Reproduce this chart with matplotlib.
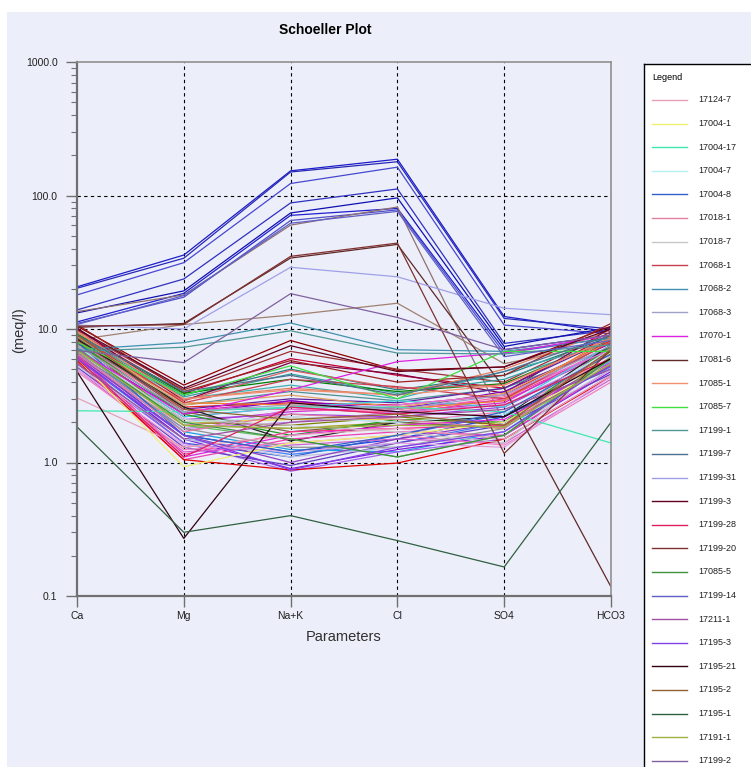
import numpy as np
import matplotlib.pyplot as plt
from matplotlib.patches import Rectangle
from matplotlib.ticker import LogLocator, NullFormatter

plt.rcParams['font.family'] = ['Liberation Sans', 'DejaVu Sans']

##### Data #####
params = ['Ca', 'Mg', 'Na+K', 'Cl', 'SO4', 'HCO3']
ytick_vals = [0.1, 1.0, 10.0, 100.0, 1000.0]
ytick_labels = ['0.1', '1.0', '10.0', '100.0', '1000.0']

# samples visible in the legend, values in meq/l: Ca, Mg, Na+K, Cl, SO4, HCO3
legend_names = ['17124-7', '17004-1', '17004-17', '17004-7', '17004-8', '17018-1',
                '17018-7', '17068-1', '17068-2', '17068-3', '17070-1', '17081-6',
                '17085-1', '17085-7', '17199-1', '17199-7', '17199-31', '17199-3',
                '17199-28', '17199-20', '17085-5', '17199-14', '17211-1', '17195-3',
                '17195-21', '17195-2', '17195-1', '17191-1', '17199-2']
legend_colors = ['#E8A0B8', '#F0F070', '#40E8B0', '#B8F0F0', '#3060C8', '#E080A0',
                 '#C8C8C8', '#C84050', '#4090B0', '#A0A0C8', '#E020E0', '#602828',
                 '#F09070', '#40E040', '#509898', '#507090', '#A0A0E8', '#600020',
                 '#E02060', '#803030', '#409040', '#6060C8', '#A050A0', '#8040E8',
                 '#300010', '#906030', '#306040', '#A0B040', '#8060A0']
legend_values = [
    [3.05, 1.3, 1.6, 1.8, 1.5, 4.5],
    [6.0, 0.93, 1.4, 1.6, 2.0, 5.5],
    [2.44, 2.4, 2.6, 2.6, 2.4, 1.4],
    [7.5, 2.0, 2.2, 2.0, 2.3, 7.0],
    [8.0, 1.6, 1.2, 1.6, 2.4, 6.5],
    [6.5, 1.7, 2.3, 2.1, 1.8, 7.0],
    [7.0, 2.1, 1.9, 1.7, 1.4, 6.0],
    [9.0, 2.8, 4.2, 3.7, 3.0, 8.0],
    [7.0, 7.9, 11.1, 7.0, 6.8, 8.5],
    [7.5, 2.4, 2.7, 2.5, 3.2, 7.5],
    [7.0, 2.3, 3.5, 5.7, 6.6, 9.0],
    [10.3, 11.0, 34.0, 43.0, 3.6, 0.117],
    [9.5, 3.0, 3.5, 3.2, 3.8, 8.5],
    [8.0, 3.2, 5.3, 3.0, 6.8, 6.8],
    [6.8, 7.3, 9.7, 6.6, 6.5, 7.6],
    [9.0, 3.4, 4.5, 3.2, 4.8, 9.0],
    [10.7, 10.0, 29.0, 24.6, 14.3, 12.8],
    [10.0, 3.6, 7.5, 4.8, 5.2, 10.0],
    [6.0, 1.1, 2.6, 2.3, 2.7, 6.0],
    [10.5, 10.8, 35.0, 44.0, 1.17, 7.0],
    [7.0, 2.0, 1.5, 1.1, 1.6, 6.0],
    [10.8, 17.8, 62.0, 76.0, 6.2, 8.2],
    [5.5, 1.5, 2.0, 2.2, 2.5, 5.0],
    [6.0, 1.6, 0.88, 1.3, 1.7, 5.5],
    [4.8, 0.27, 2.8, 2.4, 2.2, 6.0],
    [9.0, 2.5, 2.1, 2.3, 1.9, 7.0],
    [1.85, 0.3, 0.4, 0.26, 0.165, 2.0],
    [7.0, 1.9, 1.8, 1.9, 1.85, 5.5],
    [6.9, 5.6, 18.4, 12.2, 7.0, 9.0],
]

# remaining samples (their legend entries run off the bottom of the figure)
other_names = ['17199-10', '17199-11', '17199-12', '17199-13', '17199-15', '17199-16',
               '17199-17', '17199-18', '17199-19',
               '17211-2', '17211-3', '17211-4', '17211-5', '17211-6', '17211-7',
               '17211-8', '17211-9', '17211-10', '17211-11', '17211-12', '17211-13',
               '17220-1', '17220-2', '17220-3', '17220-4', '17220-5', '17220-6',
               '17220-7', '17220-8', '17220-9', '17220-10', '17220-11', '17220-12',
               '17220-13', '17220-14', '17220-15', '17220-16', '17220-17', '17220-18',
               '17220-19', '17220-20',
               '17231-1', '17231-2', '17231-3', '17231-4', '17231-5', '17231-6',
               '17231-7', '17231-8', '17231-9', '17231-10', '17231-11', '17231-12',
               '17231-13', '17231-14', '17231-15', '17231-16', '17231-17', '17231-18']
other_colors = ['#1C1CC8', '#2828B8', '#4848D0', '#3030C0', '#1010B0', '#2020D0',
                '#5050C8', '#907070', '#A08070',
                '#900000', '#A03030', '#C00030', '#208080', '#30A0A0', '#40B0B0',
                '#008000', '#E08060', '#800040', '#A02020', '#E06060', '#509090',
                '#E020C0', '#F040A0', '#D030D0', '#E02020', '#8000C0', '#6020A0',
                '#A040E0', '#F080C0', '#FF60A0', '#E0A060', '#40D0E0', '#808000',
                '#A0A020', '#E0E040', '#806040', '#20A020', '#202020', '#F08030',
                '#C080E0', '#E070E0',
                '#2040E0', '#4080F0', '#3060D0', '#20A0E0', '#8020E0', '#A060F0',
                '#6040C0', '#E020E0', '#F040B0', '#FF3090', '#D060D0', '#F080C0',
                '#E00000', '#909090', '#60C060', '#C0C0E0', '#9040C0', '#E0A0E0']
other_values = [
    # high salinity group
    [20.7, 35.8, 153.0, 187.0, 12.4, 9.5],
    [20.2, 33.9, 150.0, 179.0, 12.0, 10.0],
    [18.0, 31.4, 123.0, 163.0, 10.7, 9.2],
    [13.9, 23.7, 88.0, 112.0, 7.8, 9.8],
    [13.2, 19.3, 74.0, 96.0, 7.4, 10.3],
    [11.3, 18.5, 71.0, 80.0, 7.0, 9.0],
    [11.0, 17.3, 65.0, 78.0, 6.6, 8.6],
    [13.5, 18.0, 60.0, 82.0, 2.0, 7.0],
    [8.3, 10.8, 12.7, 15.6, 5.5, 8.0],
    # upper part of the main band
    [10.5, 3.8, 8.2, 4.9, 5.2, 10.5],
    [9.8, 3.5, 6.8, 5.0, 4.0, 9.5],
    [9.5, 3.3, 6.0, 4.5, 3.6, 9.0],
    [9.0, 3.2, 5.0, 3.5, 4.5, 8.8],
    [8.8, 3.1, 4.6, 3.3, 4.2, 8.0],
    [8.5, 3.0, 3.8, 3.0, 4.8, 7.8],
    [9.2, 3.3, 4.2, 3.4, 3.9, 8.4],
    [9.6, 3.0, 3.6, 3.2, 5.0, 9.8],
    [10.2, 2.9, 5.6, 4.6, 3.3, 10.2],
    [10.8, 3.4, 5.8, 4.0, 4.5, 11.0],
    [8.0, 2.9, 4.9, 3.6, 3.8, 8.6],
    [7.8, 2.7, 3.4, 2.9, 3.6, 7.2],
    # middle of the main band
    [7.5, 2.4, 2.9, 2.4, 2.8, 7.5],
    [7.0, 2.2, 2.6, 2.3, 3.0, 7.0],
    [6.5, 2.0, 2.4, 2.6, 2.9, 6.8],
    [8.2, 2.6, 2.8, 2.7, 3.2, 8.2],
    [7.2, 2.3, 2.9, 2.5, 3.4, 7.8],
    [8.5, 2.5, 3.0, 2.8, 3.6, 8.5],
    [6.8, 2.1, 2.3, 2.2, 2.6, 6.5],
    [6.2, 1.9, 2.2, 2.0, 2.4, 6.0],
    [7.8, 2.5, 2.5, 2.4, 3.1, 7.2],
    [8.8, 2.7, 3.2, 2.6, 3.3, 8.0],
    [7.0, 2.2, 2.6, 2.9, 2.6, 7.6],
    [8.0, 2.0, 1.9, 2.2, 1.9, 6.8],
    [7.6, 1.9, 1.8, 2.0, 1.8, 6.2],
    [6.9, 2.0, 2.1, 2.1, 2.0, 6.6],
    [8.6, 2.4, 1.7, 2.0, 1.85, 7.0],
    [7.9, 2.3, 1.6, 2.1, 2.0, 7.4],
    [8.4, 2.6, 1.45, 2.0, 2.2, 7.6],
    [9.0, 2.8, 2.7, 2.5, 2.9, 8.8],
    [6.0, 1.8, 2.0, 2.4, 2.7, 6.4],
    [6.6, 1.7, 2.5, 2.7, 3.2, 7.0],
    # lower part of the main band
    [6.5, 1.6, 1.2, 1.5, 2.2, 5.5],
    [6.0, 1.5, 1.15, 1.4, 2.0, 5.2],
    [5.8, 1.4, 1.1, 1.6, 2.3, 5.0],
    [7.2, 1.7, 1.25, 1.2, 1.7, 5.8],
    [6.2, 1.5, 0.9, 1.25, 1.6, 4.8],
    [5.5, 1.4, 0.86, 1.2, 1.5, 4.5],
    [5.2, 1.3, 0.95, 1.4, 1.9, 4.6],
    [6.0, 1.1, 1.6, 1.9, 2.1, 5.6],
    [5.6, 1.05, 1.5, 1.7, 1.6, 5.0],
    [6.3, 1.15, 1.7, 1.8, 1.9, 5.4],
    [5.0, 1.2, 1.35, 1.5, 1.4, 4.2],
    [4.8, 1.25, 1.4, 1.6, 1.35, 4.0],
    [5.8, 1.05, 0.88, 0.99, 1.5, 4.4],
    [6.7, 1.8, 1.3, 1.3, 1.8, 6.0],
    [7.4, 1.9, 1.5, 1.1, 1.6, 6.2],
    [5.3, 1.5, 1.1, 1.3, 1.7, 5.0],
    [6.4, 1.6, 1.0, 1.5, 2.0, 5.3],
    [5.0, 1.35, 1.2, 1.4, 1.3, 4.4],
]

##### Figure #####
W, H = 751, 767
BG = '#ECEFF9'
fig = plt.figure(figsize=(W / 100, H / 100), dpi=100)
fig.patch.set_facecolor('white')
fig.patches.append(Rectangle((7 / W, 0), 1, (H - 12) / H, transform=fig.transFigure,
                             facecolor=BG, edgecolor='none', zorder=-10))

ax = fig.add_axes([77 / W, 171 / H, 534 / W, 534 / H])
ax.set_facecolor(BG)
ax.set_yscale('log')
ax.set_xlim(0, len(params) - 1)
ax.set_ylim(0.1, 1000)

x = np.arange(len(params))
for vals, col in zip(other_values, other_colors):
    ax.plot(x, vals, color=col, lw=0.9, zorder=2)
for vals, col in zip(legend_values, legend_colors):
    ax.plot(x, vals, color=col, lw=0.9, zorder=2)

# dashed grid
for xv in x[1:-1]:
    ax.axvline(xv, color='black', ls=(0, (3, 3)), lw=0.8, zorder=1)
for yv in ytick_vals[1:-1]:
    ax.axhline(yv, color='black', ls=(0, (3, 3)), lw=0.8, zorder=1)

ax.set_xticks(x)
ax.set_xticklabels(params)
ax.set_yticks(ytick_vals)
ax.set_yticklabels(ytick_labels)
ax.yaxis.set_minor_locator(LogLocator(base=10, subs=np.arange(2, 10)))
ax.yaxis.set_minor_formatter(NullFormatter())
ax.tick_params(axis='both', which='major', direction='out', length=8, width=1,
               color='#707070', labelsize=7.5, labelcolor='#202020')
ax.tick_params(axis='y', which='major', pad=6)
ax.tick_params(axis='x', which='major', pad=3)
ax.tick_params(axis='y', which='minor', direction='out', length=4, width=0.8,
               color='#707070')
for side in ['left', 'bottom']:
    ax.spines[side].set_color('#707070')
    ax.spines[side].set_linewidth(1.6)
for side in ['top', 'right']:
    ax.spines[side].set_color('#909090')
    ax.spines[side].set_linewidth(1.2)

fig.text(325 / W, 1 - 30 / H, 'Schoeller Plot', ha='center', va='center',
         fontsize=10, fontweight='bold')
fig.text(19 / W, 1 - 330 / H, '(meq/l)', rotation=90, ha='center', va='center',
         fontsize=10.5, color='#303030')
fig.text(344 / W, 1 - 637 / H, 'Parameters', ha='center', va='center',
         fontsize=10.5, color='#303030')

##### Legend panel (runs off the right and bottom edges) #####
top_px = 64
lax = fig.add_axes([644 / W, -0.1, 0.2, 1 - top_px / H + 0.1])
lax.set_facecolor('white')
box_h = (1 - top_px / H + 0.1) * H
lax.set_xlim(0, 0.2 * W)
lax.set_ylim(top_px + box_h, top_px)
lax.set_xticks([])
lax.set_yticks([])
for s in lax.spines.values():
    s.set_color('black')
    s.set_linewidth(1)
lax.text(8, 77, 'Legend', fontsize=6.5, va='center', ha='left')
all_names = legend_names + other_names
all_colors = legend_colors + other_colors
for i, (nm, col) in enumerate(zip(all_names, all_colors)):
    yy = 100 + i * 23.6
    if yy > H - 5:
        break  # the rest of the legend lies below the figure
    lax.plot([8, 43], [yy, yy], color=col, lw=1)
    lax.text(54, yy, nm, fontsize=6.5, va='center', ha='left', color='#202020')

fig.savefig('out.png', dpi=100, facecolor=fig.get_facecolor())
